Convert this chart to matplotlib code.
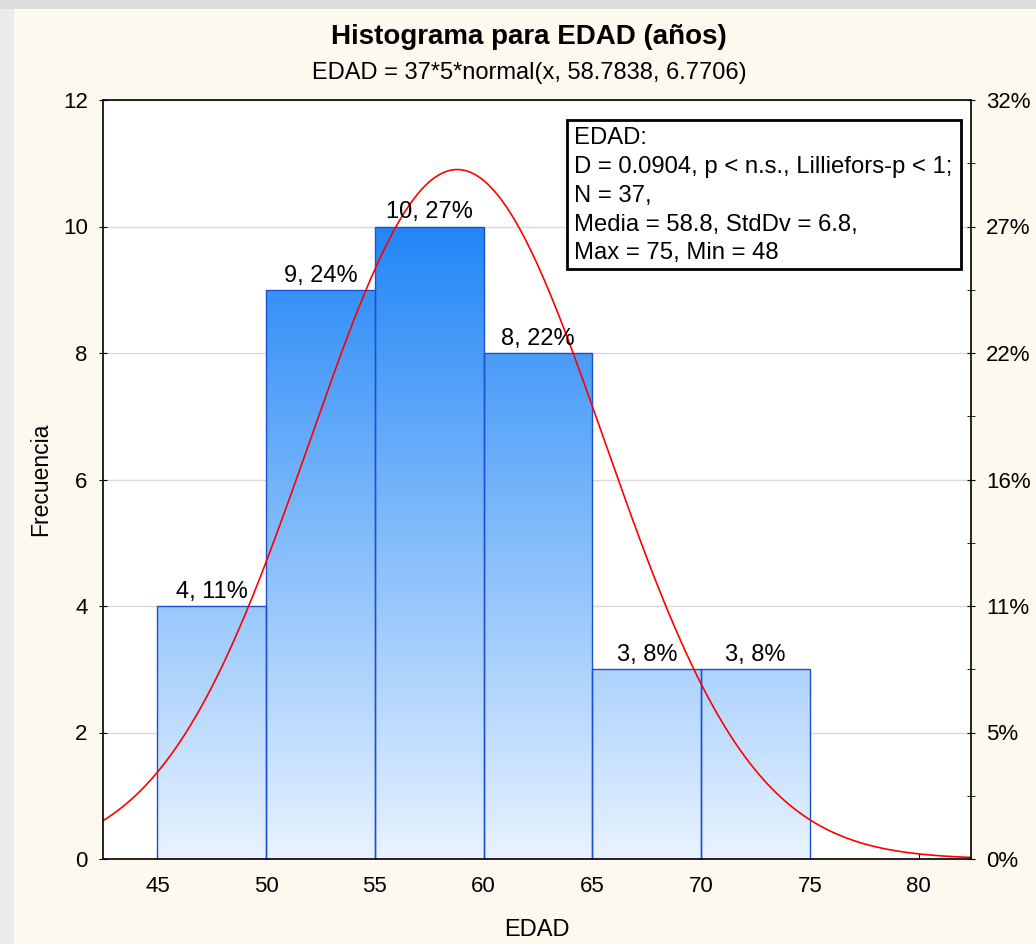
import numpy as np
import matplotlib.pyplot as plt
import matplotlib.colors as mcolors
from matplotlib.patches import Rectangle

plt.rcParams['font.family'] = ['Liberation Sans', 'DejaVu Sans']

# histogram of EDAD (años), 5-year classes
bin_edges = [45, 50, 55, 60, 65, 70, 75]
counts = [4, 9, 10, 8, 3, 3]
n_total = 37
mean_edad = 58.7838
sd_edad = 6.7706
stats_lines = [
    'EDAD:',
    'D = 0.0904, p < n.s., Lilliefors-p < 1;',
    'N = 37,',
    'Media = 58.8, StdDv = 6.8,',
    'Max = 75, Min = 48',
]
x_ticks = [45, 50, 55, 60, 65, 70, 75, 80]
y_ticks = [0, 2, 4, 6, 8, 10, 12]

BG = '#FEF9EE'
LIGHT = np.array(mcolors.to_rgb('#E8F3FF'))
DARK = np.array(mcolors.to_rgb('#2186F7'))

fig = plt.figure(figsize=(10.36, 9.44), dpi=100, facecolor=BG)

# window chrome around the graph
fig.patches.append(Rectangle((0, 0), 14 / 1036, 1, transform=fig.transFigure,
                             facecolor='#EBEBEB', edgecolor='none', zorder=0))
fig.patches.append(Rectangle((0, 1 - 9 / 944), 1, 9 / 944, transform=fig.transFigure,
                             facecolor='#DCDCDC', edgecolor='none', zorder=0))

ax = fig.add_axes([103 / 1036, 1 - 859 / 944, 868 / 1036, 759 / 944])
ax.set_facecolor('white')

# vertical gradient shared by all bars (light at 0, dark at the tallest bar)
top = max(counts)
grad_y = np.linspace(0, 12, 400)
frac = np.clip(grad_y / top, 0, 1)[:, None]
grad = LIGHT * (1 - frac) + DARK * frac
grad = grad[:, None, :]

for left, right, c in zip(bin_edges[:-1], bin_edges[1:], counts):
    im = ax.imshow(grad, extent=(left, right, 0, 12), origin='lower',
                   aspect='auto', zorder=2, interpolation='bilinear')
    rect = Rectangle((left, 0), right - left, c, facecolor='none',
                     edgecolor='#1D4FCF', linewidth=1.0, zorder=3)
    ax.add_patch(rect)
    im.set_clip_path(rect)
    ax.text((left + right) / 2, c + 0.05, f'{c}, {c / n_total * 100:.0f}%',
            ha='center', va='bottom', fontsize=17, zorder=5)

# fitted normal curve scaled to counts
xs = np.linspace(42.5, 82.4, 500)
ys = n_total * 5 * np.exp(-0.5 * ((xs - mean_edad) / sd_edad) ** 2) / (sd_edad * np.sqrt(2 * np.pi))
ax.plot(xs, ys, color='#FF0000', linewidth=1.2, zorder=4)

ax.set_xlim(42.5, 82.4)
ax.set_ylim(0, 12)
ax.set_xticks(x_ticks)
ax.set_yticks(y_ticks)
ax.yaxis.grid(True, color='#D9D9D9', linewidth=1.0, zorder=0)
ax.set_axisbelow(True)
ax.tick_params(axis='x', direction='in', length=4, labelsize=16, pad=12)
ax.tick_params(axis='y', direction='inout', length=6, labelsize=16, pad=8)
for s in ax.spines.values():
    s.set_color('black')
    s.set_linewidth(1.2)
    s.set_zorder(6)

# right axis: percentage of N
ax2 = ax.twinx()
ax2.set_ylim(0, 12)
ax2.set_yticks(y_ticks)
ax2.set_yticklabels([f'{v / n_total * 100:.0f}%' for v in y_ticks])
ax2.set_yticks(np.arange(1, 12, 2), minor=True)
ax2.tick_params(axis='y', which='both', direction='inout', length=6, labelsize=16, pad=8)
for s in ax2.spines.values():
    s.set_visible(False)

ax.set_xlabel('EDAD', fontsize=17, labelpad=16)
ax.set_ylabel('Frecuencia', fontsize=16.5, labelpad=8)

# descriptive statistics box
box_x, box_y0, box_y1 = 567 / 1036, 1 - 269 / 944, 1 - 120 / 944
fig.patches.append(Rectangle((box_x, box_y0), (961 - 567) / 1036, box_y1 - box_y0,
                             transform=fig.transFigure, facecolor='white',
                             edgecolor='black', linewidth=2, zorder=10))
line_y = [138, 167, 196, 225, 253]
for txt, yy in zip(stats_lines, line_y):
    fig.text(574 / 1036, 1 - yy / 944, txt, ha='left', va='center',
             fontsize=17.2, zorder=11)

fig.text(529 / 1036, 1 - 37 / 944, 'Histograma para EDAD (años)', ha='center',
         va='center', fontsize=20, fontweight='bold')
fig.text(529 / 1036, 1 - 73 / 944, 'EDAD = 37*5*normal(x, 58.7838, 6.7706)',
         ha='center', va='center', fontsize=17)

fig.savefig('out.png', dpi=100, facecolor=BG)
